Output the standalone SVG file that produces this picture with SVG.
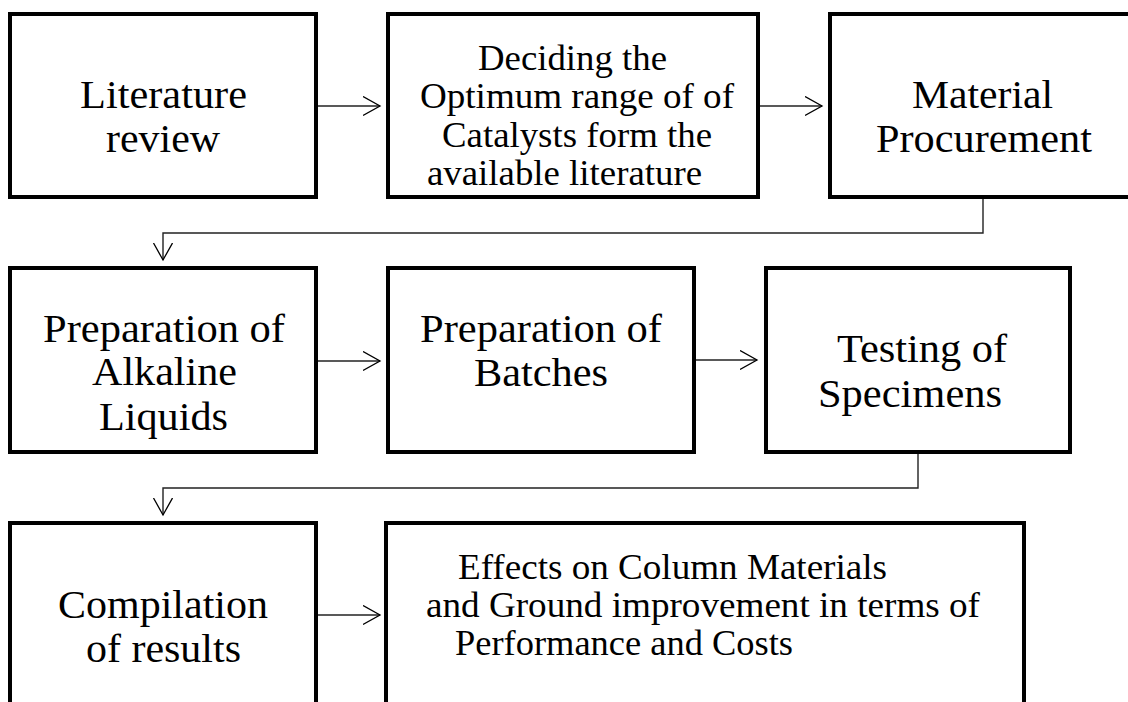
<svg xmlns="http://www.w3.org/2000/svg" width="1128" height="702" viewBox="0 0 1128 702">
<defs>
<style>
.box{fill:#fff;stroke:#000;stroke-width:4}
.t{font-family:"Liberation Serif","Times New Roman",serif;font-size:40px;fill:#000}
.s{font-family:"Liberation Serif","Times New Roman",serif;font-size:35px;fill:#000}
.c{text-anchor:middle}
.ln{fill:none;stroke:#222;stroke-width:1.4}
</style>
<marker id="ah" markerUnits="userSpaceOnUse" markerWidth="20" markerHeight="22" refX="17" refY="10" orient="auto">
<path d="M0,0.5 L17,10 L0,19.5" fill="none" stroke="#000" stroke-width="1.3"/>
</marker>
</defs>
<rect width="1128" height="702" fill="#fff"/>
<g id="connectors">
<path class="ln" d="M318,106 H380" marker-end="url(#ah)"/>
<path class="ln" d="M760,106 H822" marker-end="url(#ah)"/>
<path class="ln" d="M983,199 V233 H163 V260" marker-end="url(#ah)"/>
<path class="ln" d="M318,361 H380" marker-end="url(#ah)"/>
<path class="ln" d="M696,360 H757" marker-end="url(#ah)"/>
<path class="ln" d="M918,454 V488 H163 V515" marker-end="url(#ah)"/>
<path class="ln" d="M318,615 H380" marker-end="url(#ah)"/>
</g>
<g id="n1">
<rect class="box" x="10" y="14" width="306" height="183"/>
<text class="t c" x="163.5" y="108" textLength="167" lengthAdjust="spacingAndGlyphs">Literature</text>
<text class="t c" x="163" y="152" textLength="114" lengthAdjust="spacingAndGlyphs">review</text>
</g>
<g id="n2">
<rect class="box" x="388" y="14" width="370" height="183"/>
<text class="s" x="478" y="70" textLength="189" lengthAdjust="spacingAndGlyphs">Deciding the</text>
<text class="s" x="420" y="108" textLength="314" lengthAdjust="spacingAndGlyphs">Optimum range of of</text>
<text class="s" x="442" y="147" textLength="270" lengthAdjust="spacingAndGlyphs">Catalysts form the</text>
<text class="s" x="427" y="185" textLength="275" lengthAdjust="spacingAndGlyphs">available literature</text>
</g>
<g id="n3">
<rect class="box" x="830" y="14" width="310" height="183"/>
<text class="t c" x="982.5" y="108" textLength="141" lengthAdjust="spacingAndGlyphs">Material</text>
<text class="t c" x="984" y="152" textLength="216" lengthAdjust="spacingAndGlyphs">Procurement</text>
</g>
<g id="n4">
<rect class="box" x="10" y="268" width="306" height="184"/>
<text class="t c" x="164" y="342" textLength="242" lengthAdjust="spacingAndGlyphs">Preparation of</text>
<text class="t c" x="164.5" y="385" textLength="145" lengthAdjust="spacingAndGlyphs">Alkaline</text>
<text class="t c" x="163.5" y="430" textLength="129" lengthAdjust="spacingAndGlyphs">Liquids</text>
</g>
<g id="n5">
<rect class="box" x="388" y="268" width="306" height="184"/>
<text class="t c" x="541" y="342" textLength="242" lengthAdjust="spacingAndGlyphs">Preparation of</text>
<text class="t c" x="541" y="386" textLength="134" lengthAdjust="spacingAndGlyphs">Batches</text>
</g>
<g id="n6">
<rect class="box" x="766" y="268" width="304" height="184"/>
<text class="t" x="837" y="362" textLength="170" lengthAdjust="spacingAndGlyphs">Testing of</text>
<text class="t" x="818" y="407" textLength="184" lengthAdjust="spacingAndGlyphs">Specimens</text>
</g>
<g id="n7">
<rect class="box" x="10" y="523" width="306" height="200"/>
<text class="t c" x="163" y="618" textLength="210" lengthAdjust="spacingAndGlyphs">Compilation</text>
<text class="t c" x="163.5" y="662" textLength="155" lengthAdjust="spacingAndGlyphs">of results</text>
</g>
<g id="n8">
<rect class="box" x="386" y="523" width="638" height="200"/>
<text class="s" x="458" y="579" textLength="429" lengthAdjust="spacingAndGlyphs">Effects on Column Materials</text>
<text class="s" x="426" y="617" textLength="554" lengthAdjust="spacingAndGlyphs">and Ground improvement in terms of</text>
<text class="s" x="455" y="655" textLength="338" lengthAdjust="spacingAndGlyphs">Performance and Costs</text>
</g>
</svg>
